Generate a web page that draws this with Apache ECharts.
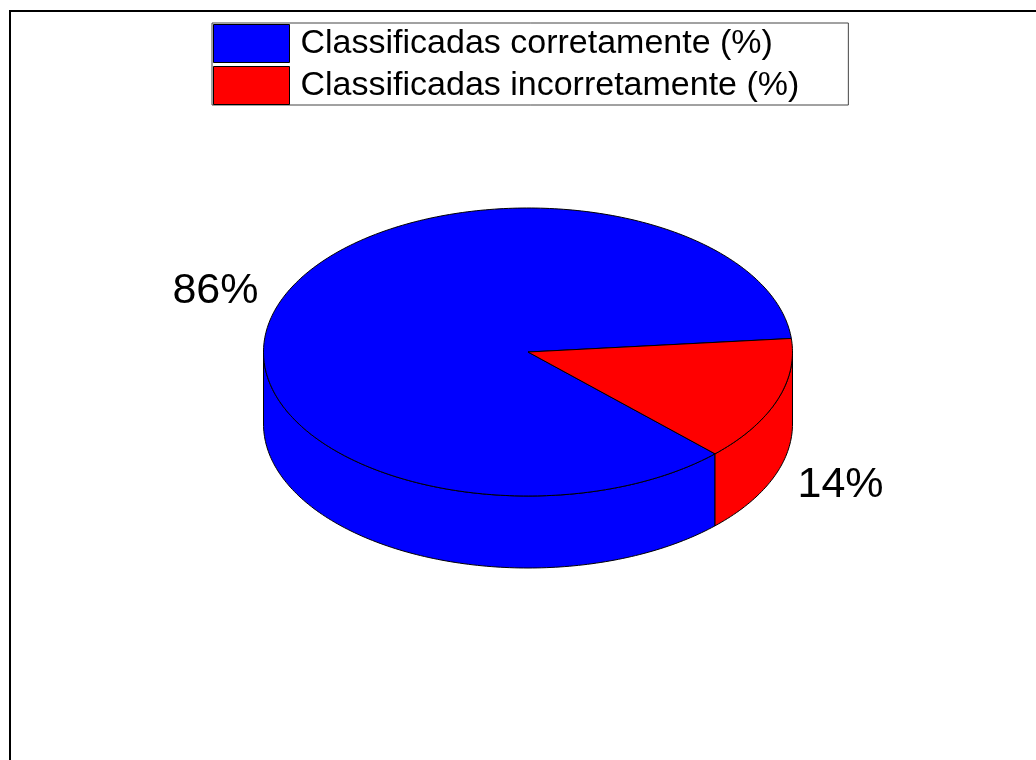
<!DOCTYPE html>
<html>
<head>
<meta charset="utf-8">
<title>Classificação</title>
<script src="https://cdn.jsdelivr.net/npm/echarts@6/dist/echarts.min.js"></script>
<style>
  html, body { margin: 0; padding: 0; background: #fff; }
  #chart { width: 1036px; height: 760px; }
</style>
</head>
<body>
<div id="chart"></div>
<script>
// Category names and their percentages
const categories = ['Classificadas corretamente (%)', 'Classificadas incorretamente (%)'];
const values = [86, 14];

const total = values.reduce((a, b) => a + b, 0);

// Pie geometry (pixels): tilted disc with a visible rim
const PIE = { cx: 528, cy: 352, rx: 264.5, ry: 144, depth: 72, startDeg: 5.4, labelK: 1.256 };

function pt(tDeg, dy) {
  const t = tDeg * Math.PI / 180;
  return [PIE.cx + PIE.rx * Math.cos(t), PIE.cy - PIE.ry * Math.sin(t) + (dy || 0)];
}

function arc(a, b, dy) {
  const pts = [];
  const n = Math.max(2, Math.ceil(Math.abs(b - a)));
  for (let i = 0; i <= n; i++) pts.push(pt(a + (b - a) * i / n, dy));
  return pts;
}

function sliceRange(idx) {
  let acc = 0;
  for (let i = 0; i < idx; i++) acc += values[i];
  const a1 = PIE.startDeg + acc / total * 360;
  const a2 = PIE.startDeg + (acc + values[idx]) / total * 360;
  return [a1, a2];
}

function makeRender(idx, color) {
  return function (params, api) {
    const [a1, a2] = sliceRange(idx);
    const children = [];
    const stroke = { stroke: '#000', lineWidth: 1, lineJoin: 'round' };

    // front-facing rim pieces: angles in (180, 360) modulo 360
    [[180, 360], [540, 720]].forEach(([lo, hi]) => {
      const s = Math.max(a1, lo), e = Math.min(a2, hi);
      if (e > s) {
        const top = arc(s, e, 0);
        const bot = arc(e, s, PIE.depth);
        children.push({
          type: 'polygon',
          shape: { points: top.concat(bot) },
          style: Object.assign({ fill: color }, stroke),
          z2: 1
        });
      }
    });

    // top face of the slice
    children.push({
      type: 'polygon',
      shape: { points: [[PIE.cx, PIE.cy]].concat(arc(a1, a2, 0)) },
      style: Object.assign({ fill: color }, stroke),
      z2: 2
    });

    // percentage label outside the slice
    const mid = (a1 + a2) / 2;
    const m = mid * Math.PI / 180;
    const lx = PIE.cx + PIE.rx * PIE.labelK * Math.cos(m);
    const ly = PIE.cy - PIE.ry * PIE.labelK * Math.sin(m) + (Math.sin(m) < 0 ? PIE.depth : 0);
    children.push({
      type: 'text',
      style: {
        x: lx, y: ly,
        text: Math.round(api.value(0) / total * 100) + '%',
        fill: '#000',
        font: '43px "Liberation Sans", Arial, sans-serif',
        align: 'center',
        verticalAlign: 'middle'
      },
      z2: 3
    });

    return { type: 'group', children: children };
  };
}

const sliceColors = ['#0000ff', '#ff0000'];

const chart = echarts.init(document.getElementById('chart'), null, { renderer: 'canvas' });

chart.setOption({
  animation: false,
  backgroundColor: '#fff',
  graphic: [{
    type: 'rect',
    shape: { x: 10, y: 11, width: 1100, height: 800 },
    style: { fill: 'none', stroke: '#000', lineWidth: 2 },
    silent: true,
    z: -10
  }],
  legend: {
    orient: 'vertical',
    left: 212,
    top: 23,
    padding: [1, 49, 0, 1],
    itemGap: 3,
    itemWidth: 76,
    itemHeight: 38,
    icon: 'rect',
    backgroundColor: '#fff',
    borderColor: '#444',
    borderWidth: 1,
    selectedMode: false,
    itemStyle: { borderColor: '#000', borderWidth: 1 },
    textStyle: {
      fontFamily: '"Liberation Sans", Arial, sans-serif',
      fontSize: 34,
      color: '#000',
      padding: [0, 0, 0, 6]
    },
    data: categories
  },
  series: categories.map((name, i) => ({
    type: 'custom',
    name: name,
    coordinateSystem: 'none',
    itemStyle: { color: sliceColors[i] },
    renderItem: makeRender(i, sliceColors[i]),
    data: [[values[i]]]
  }))
});
</script>
</body>
</html>
